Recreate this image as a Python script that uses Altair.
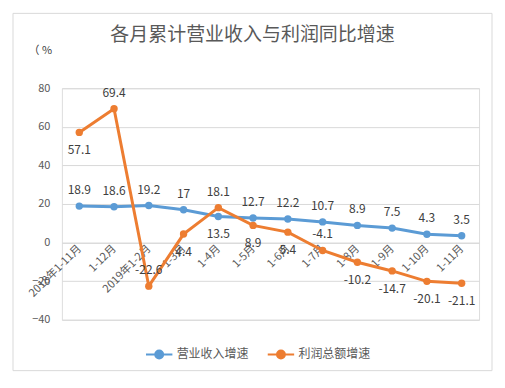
import altair as alt
import pandas as pd

categories = ["2018年1-11月", "1-12月", "2019年1-2月", "1-3月", "1-4月", "1-5月",
              "1-6月", "1-7月", "1-8月", "1-9月", "1-10月", "1-11月"]
revenue = [18.9, 18.6, 19.2, 17, 13.5, 12.7, 12.2, 10.7, 8.9, 7.5, 4.3, 3.5]
profit = [57.1, 69.4, -22.6, 4.4, 18.1, 8.9, 5.4, -4.1, -10.2, -14.7, -20.1, -21.1]
revenue_label_side = ["up"] * 4 + ["down"] + ["up"] * 7
profit_label_side = ["down", "up", "up", "down", "up", "down", "down", "up",
                     "down", "down", "down", "down"]
series_names = ["营业收入增速", "利润总额增速"]
colors = ["#5B9BD5", "#ED7D31"]
y_ticks = [-40, -20, 0, 20, 40, 60, 80]
title_text = "各月累计营业收入与利润同比增速"

rows = []
for i, c in enumerate(categories):
    rows.append({"cat": c, "series": series_names[0], "value": revenue[i],
                 "label": f"{revenue[i]:g}", "side": revenue_label_side[i], "order": i})
    rows.append({"cat": c, "series": series_names[1], "value": profit[i],
                 "label": f"{profit[i]:g}", "side": profit_label_side[i], "order": i})
df = pd.DataFrame(rows)

FONT = "Noto Sans CJK SC"
GRAY = "#595959"

x = alt.X("cat:N", sort=categories,
          scale=alt.Scale(type="point", padding=0.5),
          axis=alt.Axis(title=None, labelAngle=-45, labelAlign="right",
                        labelBaseline="middle", labelFontSize=11,
                        labelColor=GRAY, labelFont=FONT, ticks=False,
                        domainColor="#d9d9d9", domainWidth=1,
                        offset=-77.3, labelPadding=4, grid=False))
y = alt.Y("value:Q", scale=alt.Scale(domain=[-40, 80], nice=False),
          axis=alt.Axis(values=y_ticks, title="（ %", titleAngle=0,
                        titleX=-34, titleY=-38, titleAlign="left",
                        titleBaseline="middle", titleFontSize=11,
                        titleFontWeight="normal", titleColor="#404040", titleFont=FONT,
                        labelFontSize=11, labelColor=GRAY, labelFont=FONT,
                        ticks=False, domain=False, labelPadding=12,
                        gridColor="#d9d9d9", gridWidth=1))
color = alt.Color("series:N", sort=series_names,
                  scale=alt.Scale(domain=series_names, range=colors),
                  legend=alt.Legend(title=None, orient="none", direction="horizontal",
                                    legendX=83, legendY=252,
                                    symbolType="M-1,0L1,0M-0.3,0A0.3,0.3,0,1,0,0.3,0A0.3,0.3,0,1,0,-0.3,0Z",
                                    symbolSize=700, symbolStrokeWidth=2,
                                    labelFontSize=12, labelColor=GRAY, labelFont=FONT,
                                    columnPadding=14, labelOffset=3))

base = alt.Chart(df)
one = pd.DataFrame({"a": [0]})

frame = alt.Chart(one).mark_rect(
    fillOpacity=0, stroke="#d9d9d9", strokeWidth=1
).encode(x=alt.value(-49), x2=alt.value(431), y=alt.value(-75), y2=alt.value(283))

title = alt.Chart(one).mark_text(
    fontSize=19, font=FONT, color=GRAY, align="center", baseline="middle"
).encode(x=alt.value(191), y=alt.value(-53), text=alt.value(title_text))

lines = base.mark_line(strokeWidth=3).encode(x=x, y=y, color=color, order="order:Q")
points = base.mark_point(filled=True, size=55, opacity=1).encode(x=x, y=y, color=color)

labels_up = base.transform_filter(alt.datum.side == "up").mark_text(
    dy=-16, fontSize=12, color="#404040", font=FONT
).encode(x=x, y=y, text="label:N")
labels_down = base.transform_filter(alt.datum.side == "down").mark_text(
    dy=18, fontSize=12, color="#404040", font=FONT
).encode(x=x, y=y, text="label:N")

chart = alt.layer(frame, title, lines, points, labels_up, labels_down).properties(
    width=418, height=232,
    padding={"left": 54, "top": 80, "right": 18, "bottom": 55},
    autosize="none",
).configure_view(stroke=None).configure(background="white")

chart.save("out.html", embed_options={"renderer": "svg", "actions": False})
